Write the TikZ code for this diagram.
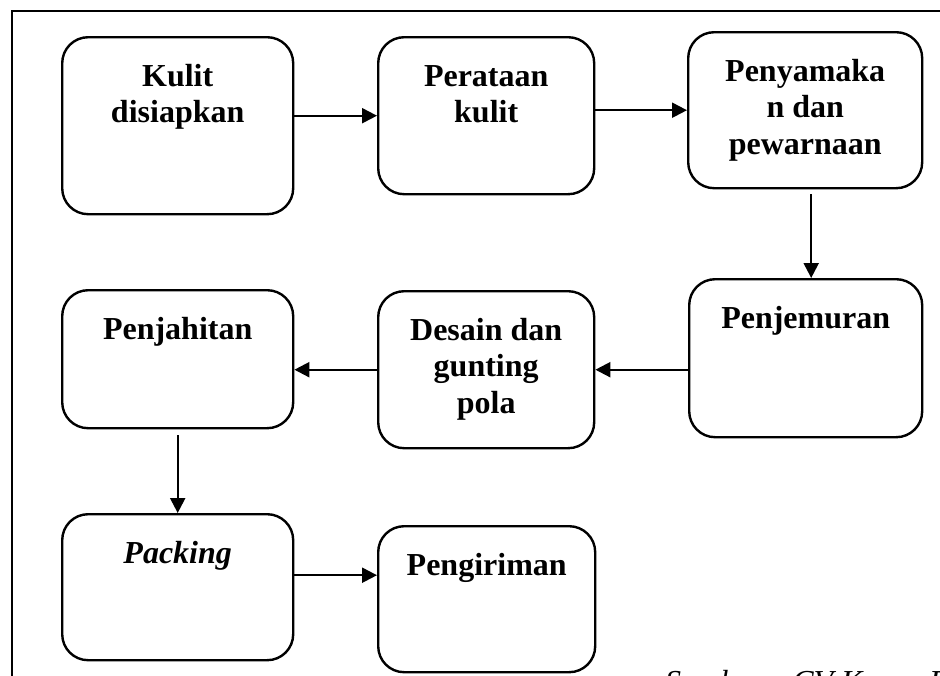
\documentclass[tikz,border=0pt]{standalone}
\usepackage{fontspec}
\setmainfont{Liberation Serif}
\usetikzlibrary{arrows.meta, positioning, calc}

% text of a box: width, height, lines (first baseline 49pt below the top)
\newcommand{\isikotak}[3]{\parbox[c][#2pt][t]{#1pt}{\centering\rule{0pt}{49pt}#3}}

\tikzset{
  kotak/.style={draw, line width=2.4pt, rounded corners=26pt, inner sep=0pt, anchor=north west,
                font=\fontsize{32}{36.5}\selectfont\bfseries},
  panah/.style={-{Triangle[length=15pt,width=15pt]}, line width=2.2pt}
}

\begin{document}
\begin{tikzpicture}[x=1pt, y=-1pt]
  \useasboundingbox (0,0) rectangle (940,675);
  \clip (0,0) rectangle (940,675);

  % Draw the outer frame
  \draw[line width=2pt] (12,11) rectangle (950,720);

  % Define the process boxes
  \node[kotak] (kulit)   at (61,36)   {\isikotak{231}{177}{Kulit\\disiapkan}};
  \node[kotak] (rata)    at (377,36)  {\isikotak{216}{157}{Perataan\\kulit}};
  \node[kotak] (warna)   at (687,31)  {\isikotak{234}{156}{Penyamaka\\n dan\\pewarnaan}};
  \node[kotak] (jemur)   at (688,278) {\isikotak{233}{158}{Penjemuran}};
  \node[kotak] (desain)  at (377,290) {\isikotak{216}{157}{Desain dan\\gunting\\pola}};
  \node[kotak] (jahit)   at (61,289)  {\isikotak{231}{138}{Penjahitan}};
  \node[kotak] (packing) at (61,513)  {\isikotak{231}{146}{\textit{Packing}}};
  \node[kotak] (kirim)   at (377,525) {\isikotak{217}{146}{Pengiriman}};

  % Draw the arrows between the boxes
  \draw[panah] (kulit.east |- rata.west) -- (rata.west);
  \draw[panah] (rata.east |- warna.west) -- (warna.west);
  \coordinate (turun) at ([xshift=6pt]warna.south);
  \draw[panah, shorten <=5pt] (turun) -- (turun |- jemur.north);
  \draw[panah] (jemur.west |- desain.east) -- (desain.east);
  \draw[panah] (desain.west) -- (desain.west -| jahit.east);
  \draw[panah, shorten <=6pt] (jahit.south) -- (jahit.south |- packing.north);
  \coordinate (keluar) at ([yshift=12pt]packing.east);
  \draw[panah] (keluar) -- (keluar -| kirim.west);

  % Source line at the bottom
  \node[anchor=base west, inner sep=0pt, font=\fontsize{32}{36}\selectfont\itshape] (sumber)
    at (665,692) {Sumber : CV Karya B};
\end{tikzpicture}
\end{document}
